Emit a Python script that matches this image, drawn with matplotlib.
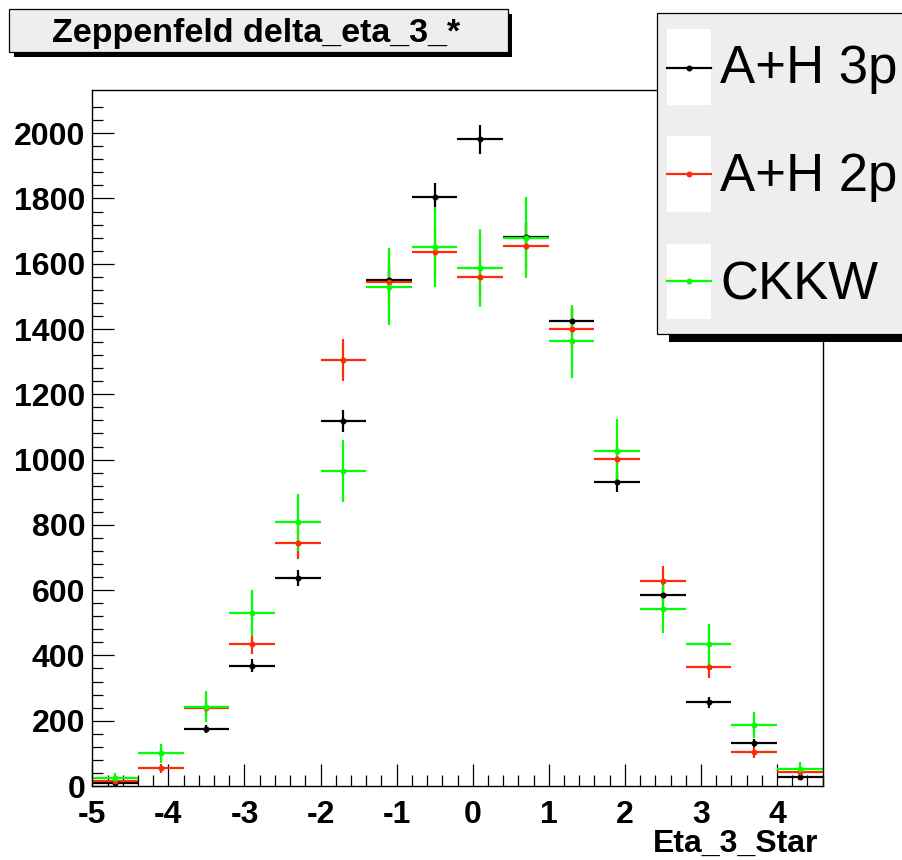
import matplotlib
matplotlib.use("Agg")
import matplotlib.pyplot as plt
from matplotlib.patches import Rectangle
from matplotlib.lines import Line2D
import numpy as np

plt.rcParams['font.family'] = ['Liberation Sans', 'DejaVu Sans']
plt.rcParams['axes.unicode_minus'] = False

# ---- data ----
bin_width = 0.6
bin_centers = [-4.7, -4.1, -3.5, -2.9, -2.3, -1.7, -1.1, -0.5, 0.1, 0.7, 1.3, 1.9, 2.5, 3.1, 3.7, 4.3]

# empty bin (not drawn) marked with nan
ah3p = [8, np.nan, 175, 369, 638, 1119, 1550, 1804, 1981, 1683, 1426, 932, 585, 256, 133, 28]
ah3p_err = [3, np.nan, 13, 19, 25, 33, 39, 42, 45, 41, 38, 31, 24, 16, 12, 5]

ah2p = [16, 54, 240, 435, 745, 1306, 1544, 1637, 1558, 1654, 1400, 1003, 629, 364, 103, 44]
ah2p_err = [7, 13, 28, 32, 49, 65, 71, 73, 71, 73, 68, 57, 44, 34, 18, 12]

ckkw = [25, 100, 243, 531, 808, 966, 1529, 1652, 1588, 1680, 1363, 1027, 542, 434, 187, 51]
ckkw_err = [15, 30, 47, 71, 88, 95, 118, 123, 120, 124, 112, 97, 73, 63, 41, 21]

series_names = ["A+H 3p", "A+H 2p", "CKKW"]
series_colors = ["#000000", "#ff2a0a", "#00ff00"]

title_text = "Zeppenfeld delta_eta_3_*"
xlabel_text = "Eta_3_Star"

W, H = 902, 860
fig = plt.figure(figsize=(W / 100, H / 100), dpi=100)

def fx(x):
    return x / W

def fy(y):
    return 1 - y / H

ax_l, ax_r, ax_t, ax_b = 92.3, 822.7, 90.0, 786.0
ax = fig.add_axes([fx(ax_l), fy(ax_b), fx(ax_r - ax_l), (ax_b - ax_t) / H])
ax.set_xlim(-5, 4.6)
ax.set_ylim(0, (ax_b - ax_t) / 0.3264)

datasets = [(ah3p, ah3p_err), (ah2p, ah2p_err), (ckkw, ckkw_err)]
for (vals, errs), col in zip(datasets, series_colors):
    ax.errorbar(bin_centers, vals, xerr=bin_width / 2, yerr=errs, fmt='o',
                color=col, ecolor=col, markersize=4.3, elinewidth=1.6,
                capsize=0, markeredgewidth=0)

ax.set_xticks(np.arange(-5, 5, 1))
ax.set_xticks(np.arange(-5, 4.61, 0.2), minor=True)
ax.set_yticks(np.arange(0, 2001, 200))
ax.set_yticks(np.arange(0, 2120, 40), minor=True)
ax.tick_params(which='both', direction='in', top=False, right=False, width=0.9)
ax.tick_params(which='major', length=15.8)
ax.tick_params(which='minor', length=7.9)
ax.tick_params(axis='x', which='major', pad=10)
ax.tick_params(axis='y', which='major', pad=5)
for lab in ax.get_xticklabels() + ax.get_yticklabels():
    lab.set_fontsize(23)
    lab.set_fontweight('bold')
for s in ax.spines.values():
    s.set_linewidth(1.0)

fig.text(fx(818.3), fy(852), xlabel_text, ha='right', va='baseline',
         fontsize=23, fontweight='bold')

# ---- title box ----
fig.patches.append(Rectangle((fx(14), fy(56.5)), fx(512 - 14), (56.5 - 14) / H,
                             transform=fig.transFigure, facecolor='black',
                             edgecolor='none', zorder=1))
fig.patches.append(Rectangle((fx(9.3), fy(51.7)), fx(508 - 9.3), (51.7 - 9.3) / H,
                             transform=fig.transFigure, facecolor='#eeeeee',
                             edgecolor='black', linewidth=0.9, zorder=2))
fig.text(fx(256), fy(41.7), title_text, ha='center', va='baseline',
         fontsize=24.5, fontweight='bold', zorder=3)

# ---- legend ----
fig.patches.append(Rectangle((fx(669), fy(341.7)), fx(920 - 669), (341.7 - 20) / H,
                             transform=fig.transFigure, facecolor='black',
                             edgecolor='none', zorder=5))
fig.patches.append(Rectangle((fx(657.3), fy(334)), fx(920 - 657.3), (334 - 13.3) / H,
                             transform=fig.transFigure, facecolor='#eeeeee',
                             edgecolor='black', linewidth=0.9, zorder=6))
white_rows = [(29, 105), (136, 212), (244, 319)]
sample_y = [67.7, 174, 281]
text_base = [83.3, 191.5, 299]
for (y0, y1), sy, tb, name, col in zip(white_rows, sample_y, text_base,
                                       series_names, series_colors):
    fig.patches.append(Rectangle((fx(666.7), fy(y1)), fx(711 - 666.7), (y1 - y0) / H,
                                 transform=fig.transFigure, facecolor='white',
                                 edgecolor='none', zorder=7))
    fig.lines.append(Line2D([fx(666.7), fx(711)], [fy(sy), fy(sy)],
                            transform=fig.transFigure, color=col, linewidth=1.6,
                            zorder=8))
    fig.lines.append(Line2D([fx(689)], [fy(sy)], transform=fig.transFigure,
                            color=col, marker='o', markersize=4.3,
                            markeredgewidth=0, zorder=9))
    fig.text(fx(720), fy(tb), name, ha='left', va='baseline', fontsize=38,
             zorder=10)

fig.savefig("out.png", dpi=100)
